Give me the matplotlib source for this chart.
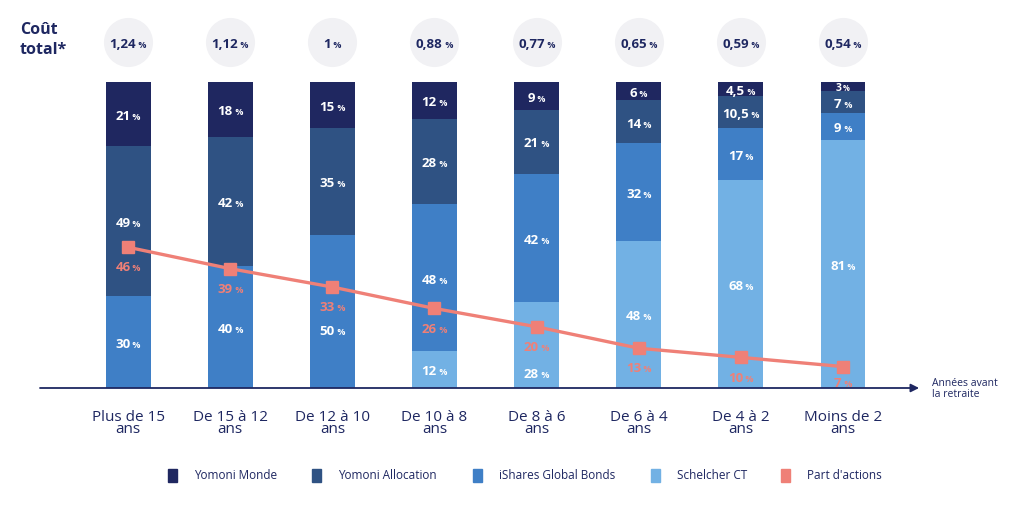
import matplotlib.pyplot as plt
from matplotlib.transforms import offset_copy
import numpy as np

plt.rcParams['font.family'] = ['Open Sans', 'DejaVu Sans']

categories = ["Plus de 15\nans", "De 15 à 12\nans", "De 12 à 10\nans", "De 10 à 8\nans",
              "De 8 à 6\nans", "De 6 à 4\nans", "De 4 à 2\nans", "Moins de 2\nans"]
cout_total = ["1,24", "1,12", "1", "0,88", "0,77", "0,65", "0,59", "0,54"]
schelcher = [0, 0, 0, 12, 28, 48, 68, 81]
ishares = [30, 40, 50, 48, 42, 32, 17, 9]
yomoni_alloc = [49, 42, 35, 28, 21, 14, 10.5, 7]
yomoni_monde = [21, 18, 15, 12, 9, 6, 4.5, 3]
part_actions = [46, 39, 33, 26, 20, 13, 10, 7]

navy = '#1e2761'
c_monde = '#1f2760'
c_alloc = '#2f5283'
c_ishares = '#3f7fc6'
c_schel = '#72b1e4'
c_line = '#ef8077'

W, H = 1024, 506
fig = plt.figure(figsize=(W / 100, H / 100), dpi=100)
ax = fig.add_axes([40 / W, (H - 389) / H, 870 / W, 306 / H])
ax.set_xlim(-0.862, 7.656)
ax.set_ylim(0, 100)
ax.axis('off')

x = np.arange(len(categories))
bw = 0.44
series = [(schelcher, c_schel), (ishares, c_ishares), (yomoni_alloc, c_alloc), (yomoni_monde, c_monde)]
bottom = np.zeros(len(x))
for vals, col in series:
    vals = np.array(vals, dtype=float)
    ax.bar(x, vals, bw, bottom=bottom, color=col, linewidth=0)
    bottom += vals

fig.canvas.draw()
renderer = fig.canvas.get_renderer()


def pct_label(xc, yc, num, color, size, psize, weight='bold', z=6):
    t1 = ax.text(xc, yc, num, ha='left', va='baseline', color=color, fontsize=size,
                 fontweight=weight, clip_on=False, zorder=z)
    t2 = ax.text(xc, yc, " %", ha='left', va='baseline', color=color, fontsize=psize,
                 fontweight=weight, clip_on=False, zorder=z)
    w1 = t1.get_window_extent(renderer).width
    w2 = t2.get_window_extent(renderer).width
    tot = w1 + w2
    k = 72 / fig.dpi
    dy = -size * 0.36
    t1.set_transform(offset_copy(ax.transData, fig=fig, x=-tot / 2 * k, y=dy, units='points'))
    t2.set_transform(offset_copy(ax.transData, fig=fig, x=(-tot / 2 + w1) * k, y=dy, units='points'))


def fmt(v):
    return ('%g' % v).replace('.', ',')


# labels moved away from the line labels, as in the original
label_shift = {(1, 2): -5.8, (0, 4): -8.8}

bottom = np.zeros(len(x))
for s, (vals, col) in enumerate(series):
    for i, v in enumerate(vals):
        if v > 0:
            yc = bottom[i] + v / 2 + label_shift.get((s, i), 0)
            small = v < 4
            pct_label(x[i], yc, fmt(v), 'white', 7.5 if small else 9.5, 5.5 if small else 6.5)
    bottom += np.array(vals, dtype=float)

# part d'actions line
ax.plot(x, part_actions, color=c_line, lw=2.4, marker='s', ms=8.5, zorder=5, clip_on=False)
for i, v in enumerate(part_actions):
    pct_label(x[i], v - (4.8 if i == len(x) - 1 else 6), fmt(v), c_line, 9.5, 6.5)

# cost circles
ycirc = (389 - 43) / 306 * 100
ax.scatter(x, [ycirc] * len(x), s=1250, color='#f1f1f4', linewidth=0, clip_on=False, zorder=1)
for i, c in enumerate(cout_total):
    pct_label(x[i], ycirc, c, navy, 9.5, 6.5)

fig.text(20 / W, 1 - 30 / H, "Coût", color=navy, fontsize=11.5, fontweight='bold', va='center')
fig.text(20 / W, 1 - 50 / H, "total*", color=navy, fontsize=11.5, fontweight='bold', va='center')

# x axis with arrow
ax.annotate('', xy=(7.745, 0), xytext=(-0.862, 0), xycoords='data',
            arrowprops=dict(arrowstyle='-|>', color=navy, lw=1.3, mutation_scale=12,
                            shrinkA=0, shrinkB=0), annotation_clip=False)
fig.text(932 / W, 1 - 389 / H, "Années avant\nla retraite", color=navy, fontsize=7.5,
         va='center', linespacing=0.95)

for i, lab in enumerate(categories):
    ax.text(x[i], -14.4, lab, ha='center', va='baseline', color=navy, fontsize=11,
            linespacing=0.75, clip_on=False)

# legend
leg = [("Yomoni Monde", c_monde, 168), ("Yomoni Allocation", c_alloc, 312),
       ("iShares Global Bonds", c_ishares, 473), ("Schelcher CT", c_schel, 651),
       ("Part d'actions", c_line, 781)]
for name, col, px in leg:
    fig.patches.append(plt.Rectangle((px / W, 1 - 483 / H), 9 / W, 13 / H, color=col,
                                     transform=fig.transFigure, figure=fig))
    fig.text((px + 26) / W, 1 - 476 / H, name, color=navy, fontsize=8.5, va='center')

fig.savefig('out.png', dpi=100)
